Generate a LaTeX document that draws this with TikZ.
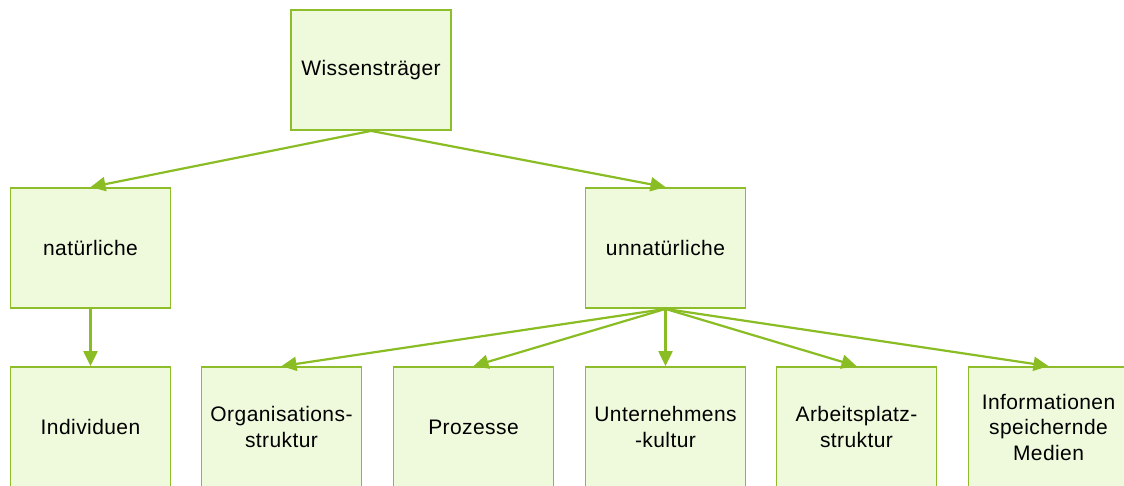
\documentclass[tikz,border=0pt]{standalone}
\usepackage{fontspec}
\setmainfont{Liberation Sans}[LetterSpace=2]
\usetikzlibrary{arrows.meta}
\definecolor{boxfill}{HTML}{EFF9DC}
\definecolor{boxline}{HTML}{8DBD2B}
\definecolor{arrowc}{HTML}{8ABD24}
\tikzset{
  box/.style={draw=boxline, fill=boxfill, line width=1.8pt, minimum width=160pt, minimum height=120pt,
    inner sep=2pt, align=center, font=\fontsize{21}{25.5}\selectfont},
  conn/.style={draw=arrowc, line width=2.2pt, -{Triangle[length=15pt,width=14pt]}}
}
\begin{document}
\begin{tikzpicture}[x=1pt,y=-1pt]
\clip (0,0) rectangle (1124,486);
\fill[white] (0,0) rectangle (1124,486);
\node[box] (w) at (371,70) {Wissensträger};
\node[box] (n) at (90.5,248) {natürliche};
\node[box] (u) at (665.5,248) {unnatürliche};
\node[box] (i) at (90.5,427) {Individuen};
\node[box] (o) at (281.5,427) {Organisations-\\struktur};
\node[box] (p) at (473.5,427) {Prozesse};
\node[box] (k) at (665.5,427) {Unternehmens\\-kultur};
\node[box] (a) at (856.5,427) {Arbeitsplatz-\\struktur};
\node[box] (m) at (1048.5,427) {Informationen\\speichernde\\Medien};
\draw[conn] (w.south) -- (n.north);
\draw[conn] (w.south) -- (u.north);
\draw[conn] (n.south) -- (i.north);
\draw[conn] (u.south) -- (o.north);
\draw[conn] (u.south) -- (p.north);
\draw[conn] (u.south) -- (k.north);
\draw[conn] (u.south) -- (a.north);
\draw[conn] (u.south) -- (m.north);
\end{tikzpicture}
\end{document}
